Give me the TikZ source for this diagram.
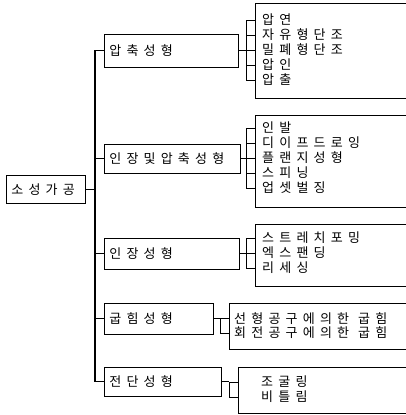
\documentclass[tikz,border=0pt]{standalone}
\usepackage{fontspec}
\newfontfamily\kr[LetterSpace=40]{Noto Sans CJK KR}
\begin{document}
\begin{tikzpicture}[x=1pt,y=-1pt,
  every node/.style={font=\kr\fontsize{13}{15}\selectfont},
  lbox/.style={draw, line width=0.7pt, anchor=north west, inner xsep=5pt, inner ysep=0pt, align=left},
  item/.style={anchor=west, inner sep=0pt},
  conn/.style={line width=0.8pt},
  frame/.style={line width=0.7pt}]
\useasboundingbox (0,0) rectangle (406,415);
% root
\node[lbox, text width=69pt, minimum height=28pt] (root) at (6,175) {소성가공};
% level 1 boxes
\node[lbox, text width=124pt, minimum height=33pt] (A) at (104,34) {압축성형};
\node[lbox, text width=126pt, minimum height=29pt] (B) at (104,144) {인장및압축성형};
\node[lbox, text width=125pt, minimum height=31pt] (C) at (104,238) {인장성형};
\node[lbox, text width=99pt, minimum height=31pt] (D) at (104,303) {굽힘성형};
\node[lbox, text width=107pt, minimum height=29pt] (E) at (104,367) {전단성형};
% trunk
\coordinate (tr) at (95,0);
\draw[line width=1.2pt] (A.west) -| (tr |- E.west) -- (E.west);
\draw[conn] (root.east) -- (tr |- root.east);
\draw[conn] (B.west) -- (tr |- B.west);
\draw[conn] (C.west) -- (tr |- C.west);
\draw[conn] (D.west) -- (tr |- D.west);
% group frames (open to the right)
\coordinate (g1l) at (255,0);
\coordinate (g4l) at (229,0);
\coordinate (g5l) at (238,0);
\coordinate (re) at (406,0);
\draw[frame] (re |- 0,3) -- (g1l |- 0,3) -- (g1l |- 0,98) -- (re |- 0,98);
\draw[frame] (re |- 0,115) -- (g1l |- 0,115) -- (g1l |- 0,207) -- (re |- 0,207);
\draw[frame] (re |- 0,224) -- (g1l |- 0,224) -- (g1l |- 0,286) -- (re |- 0,286);
\draw[frame] (re |- 0,303) -- (g4l |- 0,303) -- (g4l |- 0,349) -- (re |- 0,349);
\draw[frame] (re |- 0,367) -- (g5l |- 0,367) -- (g5l |- 0,413) -- (re |- 0,413);
% group 1
\node[item] (a1) at (262,20) {압연};
\node[item] (a2) at (262,35) {자유형단조};
\node[item] (a3) at (262,50) {밀폐형단조};
\node[item] (a4) at (262,65) {압인};
\node[item] (a5) at (262,80) {압출};
% group 2
\node[item] (b1) at (262,128) {인발};
\node[item] (b2) at (262,143) {디이프드로잉};
\node[item] (b3) at (262,158) {플랜지성형};
\node[item] (b4) at (262,173) {스피닝};
\node[item] (b5) at (262,188) {업셋벌징};
% group 3
\node[item] (c1) at (262,238) {스트레치포밍};
\node[item] (c2) at (262,253) {엑스팬딩};
\node[item] (c3) at (262,268) {리세싱};
% group 4
\node[item] (d1) at (234,319) {선형공구에의한\hspace{9pt}굽힘};
\node[item] (d2) at (234,333) {회전공구에의한\hspace{9pt}굽힘};
% group 5
\node[item] (e1) at (261,382) {조굴링};
\node[item] (e2) at (261,397) {비틀림};
% brackets
\coordinate (bx) at (246,0);
\draw[conn] (A.east) -- (g1l |- A.east);
\draw[conn] (bx |- a1.west) -- (bx |- a5.west);
\foreach \n in {a1,a2,a3,a4,a5} \draw[conn] (bx |- \n.west) -- (g1l |- \n.west);
\draw[conn] (B.east) -- (g1l |- B.east);
\draw[conn] (bx |- b1.west) -- (bx |- b5.west);
\foreach \n in {b1,b2,b3,b4,b5} \draw[conn] (bx |- \n.west) -- (g1l |- \n.west);
\draw[conn] (C.east) -- (g1l |- C.east);
\draw[conn] (bx |- c1.west) -- (bx |- c3.west);
\foreach \n in {c1,c2,c3} \draw[conn] (bx |- \n.west) -- (g1l |- \n.west);
\coordinate (dx) at (220,0);
\draw[conn] (D.east) -- (g4l |- D.east);
\draw[conn] (dx |- D.east) -- (dx |- d2.west) -- (g4l |- d2.west);
\coordinate (ex) at (229,0);
\draw[conn] (E.east) -- (ex |- E.east);
\draw[conn] (g5l |- e1.west) -- (ex |- e1.west) -- (ex |- e2.west) -- (g5l |- e2.west);
\end{tikzpicture}
\end{document}
